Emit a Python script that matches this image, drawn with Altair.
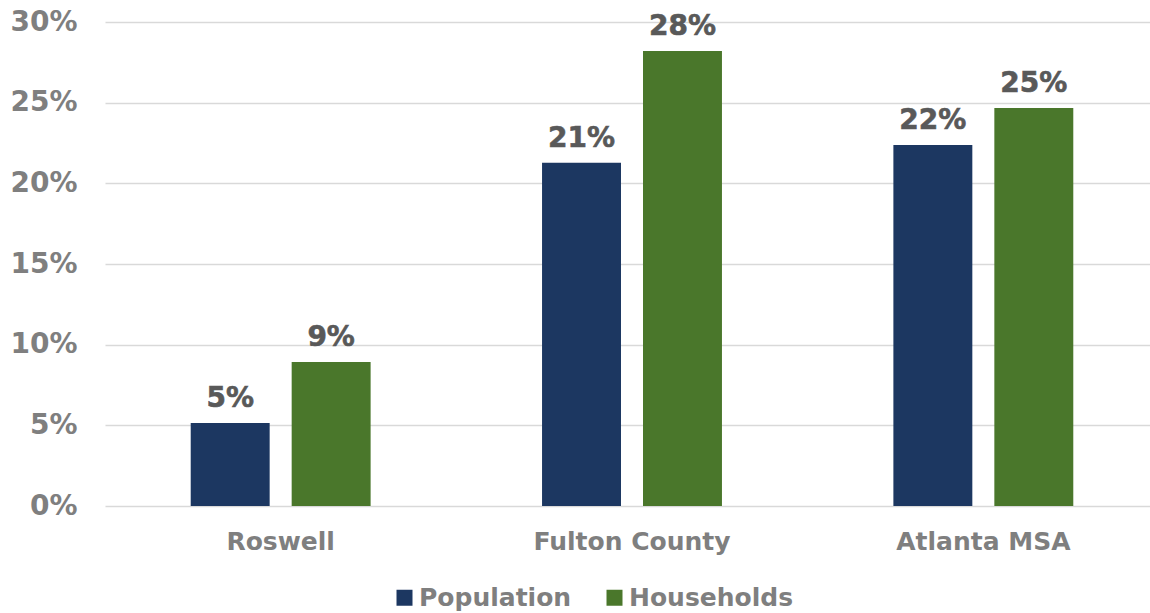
import altair as alt
import pandas as pd

# Share of growth by geography
areas = ["Roswell", "Fulton County", "Atlanta MSA"]
population = [0.0515, 0.2127, 0.2238]
households = [0.0893, 0.2820, 0.2467]
series = ["Population", "Households"]
series_colors = ["#1C3761", "#4A772B"]
y_ticks = [0, 0.05, 0.10, 0.15, 0.20, 0.25, 0.30]

rows = []
for i, area in enumerate(areas):
    rows.append({"area": area, "series": "Population", "value": population[i]})
    rows.append({"area": area, "series": "Households", "value": households[i]})
df = pd.DataFrame(rows)

FONT = "DejaVu Sans"

x_enc = alt.X(
    "area:N",
    sort=areas,
    title=None,
    scale=alt.Scale(paddingInner=0, paddingOuter=0, range=[0, 1054]),
    axis=alt.Axis(
        labelAngle=0,
        labelFont=FONT,
        labelFontSize=25,
        labelFontWeight="bold",
        labelColor="#7F7F7F",
        labelPadding=23,
        labelLimit=600,
        ticks=False,
        domain=False,
        grid=False,
    ),
)
xoff_enc = alt.XOffset(
    "series:N",
    sort=series,
    scale=alt.Scale(paddingInner=0.218, paddingOuter=0.849),
)
y_enc = alt.Y(
    "value:Q",
    title=None,
    scale=alt.Scale(domain=[0, 0.30], nice=False),
    axis=alt.Axis(
        values=y_ticks,
        format=".0%",
        labelFont=FONT,
        labelFontSize=28,
        labelFontWeight="bold",
        labelColor="#7F7F7F",
        labelPadding=28,
        ticks=False,
        domain=False,
        grid=True,
        gridColor="#D9D9D9",
        gridWidth=1.5,
    ),
)

bars = alt.Chart(df).mark_bar().encode(
    x=x_enc,
    xOffset=xoff_enc,
    y=y_enc,
    color=alt.Color(
        "series:N",
        sort=series,
        scale=alt.Scale(domain=series, range=series_colors),
        title=None,
        legend=alt.Legend(
            orient="none",
            legendX=287,
            legendY=563,
            direction="horizontal",
            symbolType="square",
            symbolSize=256,
            symbolStrokeWidth=0,
            labelFont=FONT,
            labelFontSize=25,
            labelFontWeight="bold",
            labelColor="#7F7F7F",
            labelOffset=2,
            columnPadding=30,
            labelLimit=400,
            padding=0,
        ),
    ),
)

labels = alt.Chart(df).mark_text(
    font=FONT,
    fontSize=28,
    fontWeight="bold",
    color="#595959",
    stroke="#595959",
    strokeWidth=0.6,
    baseline="alphabetic",
    dy=-16,
).encode(
    x=x_enc,
    xOffset=xoff_enc,
    y=y_enc,
    text=alt.Text("value:Q", format=".0%"),
)

chart = (
    alt.layer(bars, labels)
    .properties(
        width=1045,
        height=484,
        padding={"left": 105, "top": 22, "right": 0, "bottom": 107},
        autosize="none",
        background="white",
    )
    .configure_view(strokeWidth=0)
)

chart.save("out.html", embed_options={"renderer": "svg", "actions": False})
